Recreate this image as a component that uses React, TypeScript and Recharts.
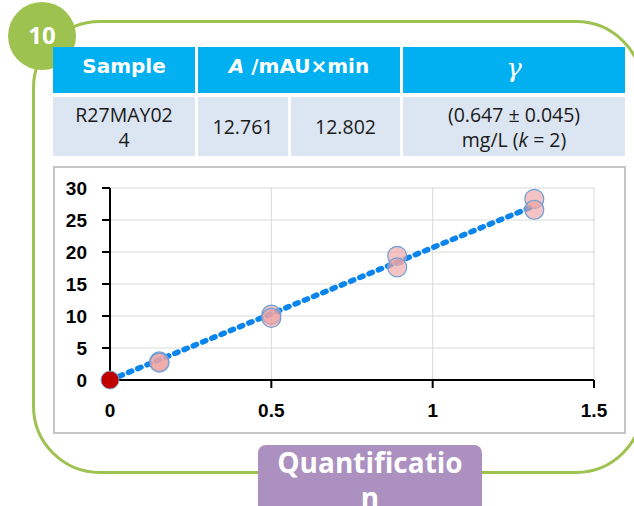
import { CartesianGrid, Scatter, ScatterChart, XAxis, YAxis } from 'recharts';

// calibration points (concentration vs peak area)
const sampleX = [0.153, 0.153, 0.5, 0.5, 0.89, 0.89, 1.315, 1.315];
const sampleY = [2.9, 2.7, 10.2, 9.7, 19.4, 17.6, 28.3, 26.6];
const blankX = [0];
const blankY = [0];
const trendX = [0, 1.305];
const trendY = [0, 27.0];

const xTicks = [0, 0.5, 1, 1.5];
const yTicks = [0, 5, 10, 15, 20, 25, 30];

const sampleName = 'R27MAY02';
const sampleNameTail = '4';
const areas = ['12.761', '12.802'];
const gammaValue = '(0.647 ± 0.045)';

const GREEN = '#9DC24F';
const HEAD = '#00B0F0';
const ROW = '#DCE6F2';

const samples = sampleX.map((x, i) => ({ x, y: sampleY[i] }));
const blank = blankX.map((x, i) => ({ x, y: blankY[i] }));
const trend = trendX.map((x, i) => ({ x, y: trendY[i] }));

const tickStyle = { fontSize: 19, fontWeight: 700, fill: '#000', fontFamily: 'Liberation Sans, Arial' };

const Bubble = (p: any) => (
  <circle cx={p.cx} cy={p.cy} r={9.5} fill="#EEA3A3" fillOpacity={0.65} stroke="#6E9FD6" strokeWidth={1.2} />
);
const RedDot = (p: any) => (
  <circle cx={p.cx} cy={p.cy} r={9} fill="#C00000" stroke="#7F9FD0" strokeWidth={1} />
);

const cell = (left: number, top: number, width: number, height: number, bg: string): React.CSSProperties => ({
  position: 'absolute',
  left,
  top,
  width,
  height,
  background: bg,
  display: 'flex',
  alignItems: 'center',
  justifyContent: 'center',
  textAlign: 'center',
  boxSizing: 'border-box',
});

const headText: React.CSSProperties = {
  color: '#fff',
  fontFamily: 'DejaVu Sans',
  fontWeight: 700,
  fontSize: 20,
  lineHeight: '24px',
  alignItems: 'flex-start',
  paddingTop: 7,
};

const rowText: React.CSSProperties = {
  color: '#1a1a1a',
  fontFamily: 'Open Sans',
  fontSize: 19.5,
  lineHeight: '25px',
};

export default function App() {
  return (
    <div style={{ position: 'absolute', left: 0, top: 0, width: 634, height: 506, overflow: 'hidden', background: '#fff' }}>
      <div
        style={{
          position: 'absolute',
          left: 32,
          top: 20,
          width: 612,
          height: 454,
          border: `3px solid ${GREEN}`,
          borderRadius: 68,
          boxSizing: 'border-box',
        }}
      />
      <div
        style={{
          position: 'absolute',
          left: 8,
          top: 2,
          width: 68,
          height: 68,
          borderRadius: '50%',
          background: GREEN,
          color: '#fff',
          fontFamily: 'Open Sans',
          fontWeight: 700,
          fontSize: 24,
          display: 'flex',
          alignItems: 'center',
          justifyContent: 'center',
          paddingBottom: 4,
          boxSizing: 'border-box',
        }}
      >
        10
      </div>

      {/* table */}
      <div style={{ ...cell(53, 47, 142, 46, HEAD), ...headText }}>Sample</div>
      <div style={{ ...cell(198, 47, 202, 46, HEAD), ...headText }}>
        <span>
          <i>A</i> /mAU×min
        </span>
      </div>
      <div
        style={{
          ...cell(403, 47, 222, 46, HEAD),
          ...headText,
          fontFamily: 'DejaVu Serif',
          fontWeight: 400,
          fontStyle: 'italic',
          fontSize: 26,
          paddingTop: 9,
        }}
      >
        γ
      </div>
      <div style={{ ...cell(53, 97, 142, 59, ROW), ...rowText }}>
        <span>
          {sampleName}
          <br />
          {sampleNameTail}
        </span>
      </div>
      <div style={{ ...cell(198, 97, 90, 59, ROW), ...rowText }}>{areas[0]}</div>
      <div style={{ ...cell(291, 97, 109, 59, ROW), ...rowText }}>{areas[1]}</div>
      <div style={{ ...cell(403, 97, 222, 59, ROW), ...rowText }}>
        <span>
          {gammaValue}
          <br />
          mg/L (<i>k</i> = 2)
        </span>
      </div>

      {/* chart */}
      <div
        style={{
          position: 'absolute',
          left: 53,
          top: 166,
          width: 573,
          height: 268,
          border: '2px solid #C4C4C4',
          boxSizing: 'border-box',
          background: '#fff',
        }}
      >
        <ScatterChart width={569} height={264} margin={{ top: 20, right: 30, left: 0, bottom: 0 }}>
          <CartesianGrid stroke="#D9D9D9" strokeWidth={1} />
          <XAxis
            type="number"
            dataKey="x"
            domain={[0, 1.5]}
            ticks={xTicks}
            height={52}
            tick={tickStyle}
            tickSize={8}
            tickMargin={16}
            axisLine={{ stroke: '#000', strokeWidth: 2 }}
            tickLine={{ stroke: '#000', strokeWidth: 2 }}
          />
          <YAxis
            type="number"
            dataKey="y"
            domain={[0, 30]}
            ticks={yTicks}
            width={55}
            tick={tickStyle}
            tickSize={8}
            tickMargin={15}
            axisLine={{ stroke: '#000', strokeWidth: 2 }}
            tickLine={{ stroke: '#000', strokeWidth: 2 }}
          />
          <Scatter
            data={trend}
            isAnimationActive={false}
            shape={() => <g />}
            line={{ stroke: '#0B85EE', strokeWidth: 5.5, strokeDasharray: '3.5 6.5', strokeLinecap: 'round' }}
          />
          <Scatter data={samples} isAnimationActive={false} shape={Bubble} />
          <Scatter data={blank} isAnimationActive={false} shape={RedDot} />
        </ScatterChart>
      </div>

      <div
        style={{
          position: 'absolute',
          left: 258,
          top: 445,
          width: 224,
          height: 80,
          borderRadius: 8,
          background: '#AB90C0',
          color: '#fff',
          fontFamily: 'Open Sans',
          fontWeight: 700,
          fontSize: 28,
          lineHeight: '35px',
          textAlign: 'center',
        }}
      >
        Quantificatio
        <br />n
      </div>
    </div>
  );
}
